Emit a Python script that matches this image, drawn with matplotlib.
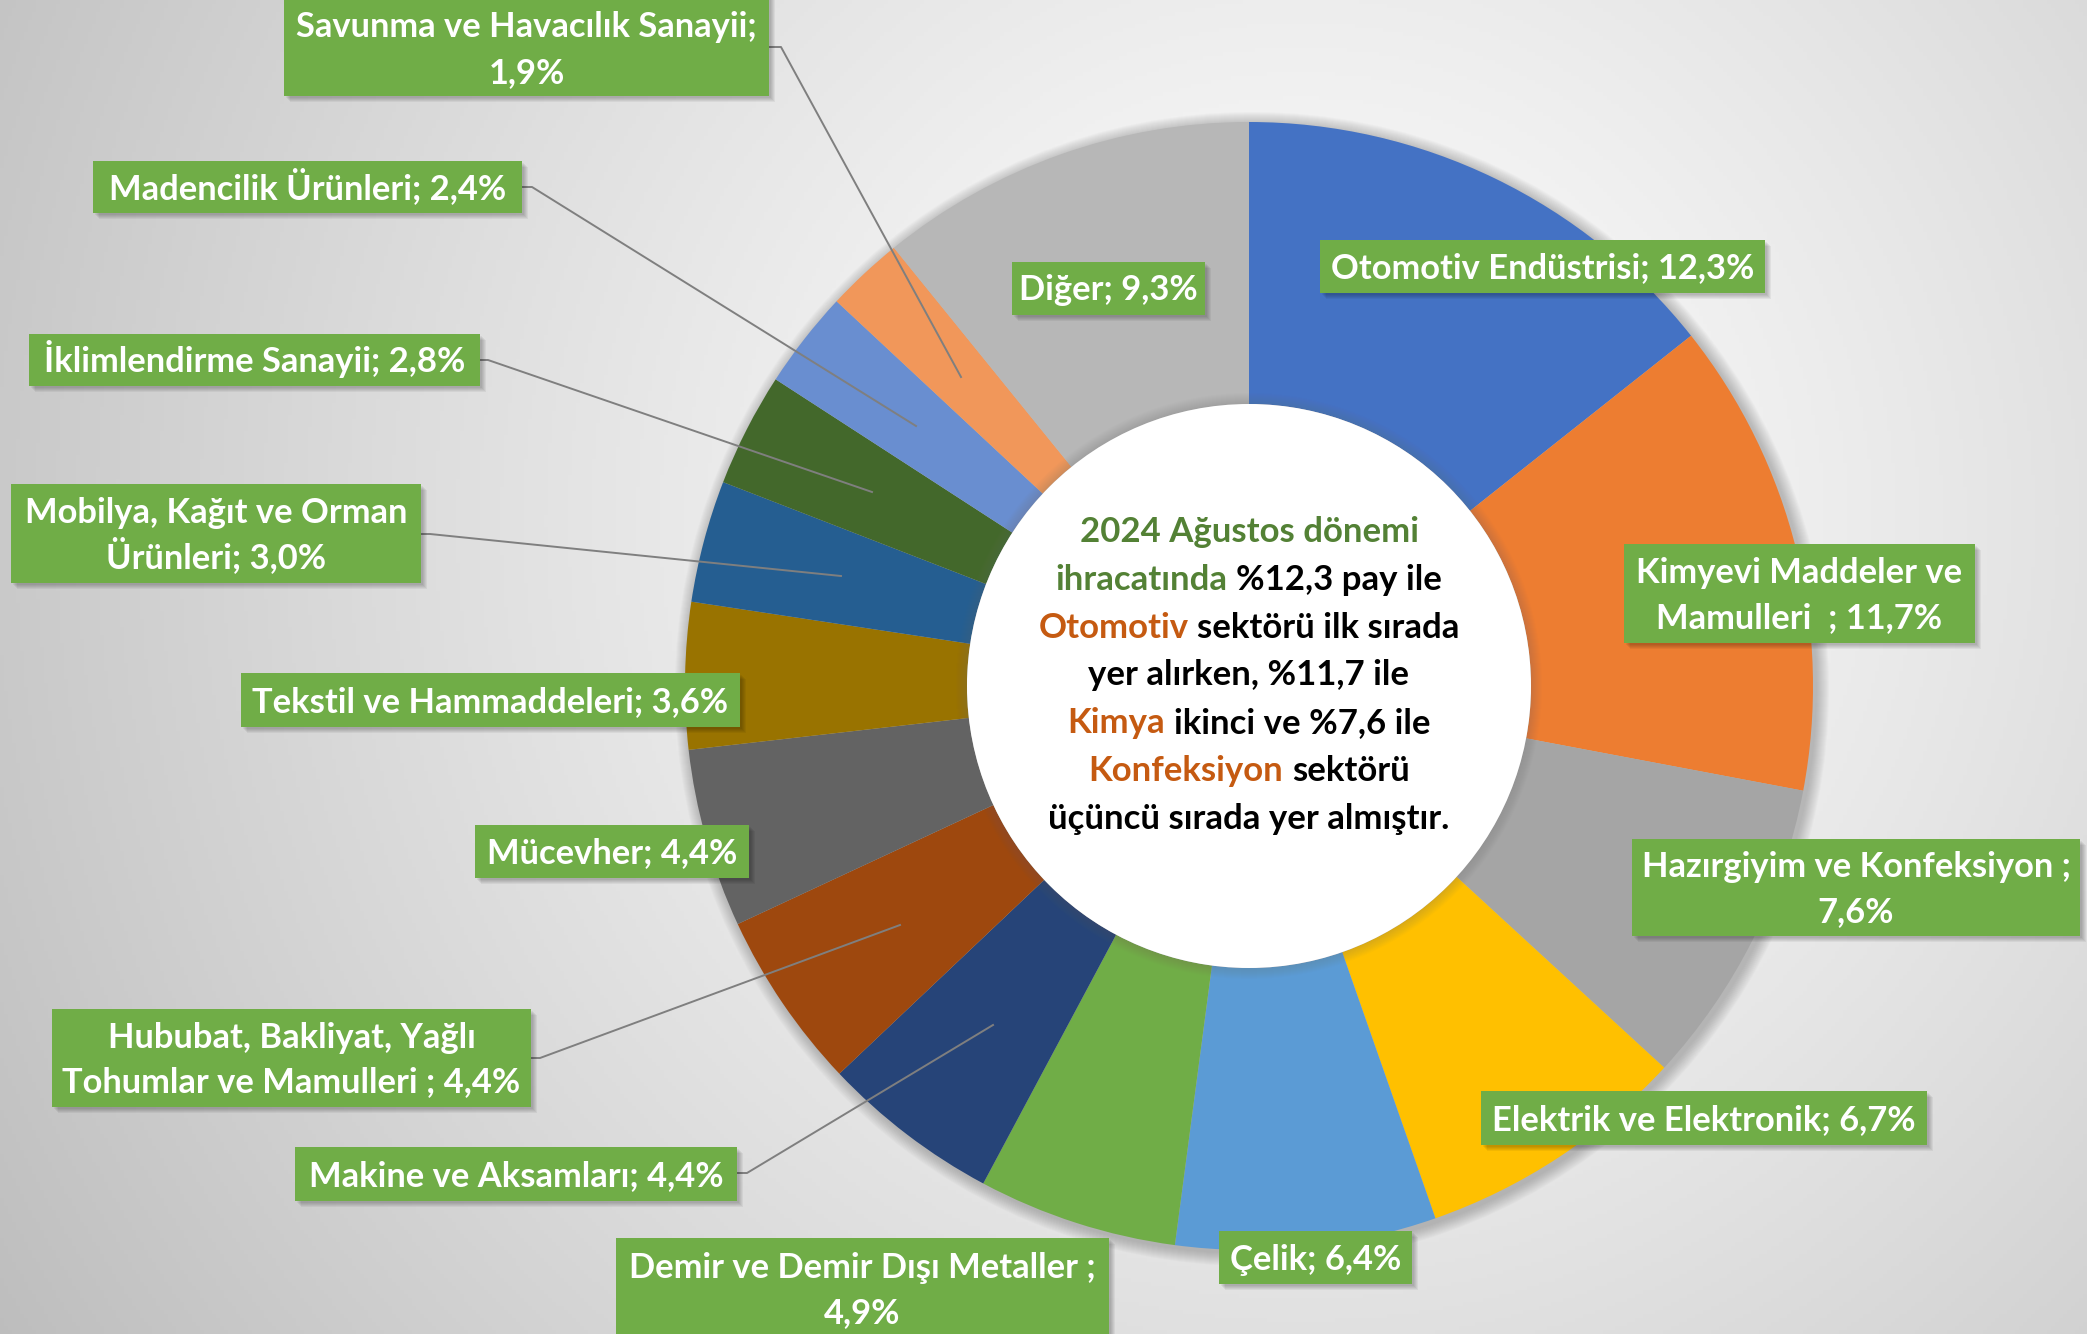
import numpy as np
import matplotlib.pyplot as plt
from matplotlib.patches import Rectangle, Circle

W, H = 2087, 1334
DPI = 100

plt.rcParams['font.family'] = ['Lato', 'DejaVu Sans']

# ---- data ----
sectors = [
    "Otomotiv Endüstrisi", "Kimyevi Maddeler ve Mamulleri", "Hazırgiyim ve Konfeksiyon",
    "Elektrik ve Elektronik", "Çelik", "Demir ve Demir Dışı Metaller",
    "Makine ve Aksamları", "Hububat, Bakliyat, Yağlı Tohumlar ve Mamulleri",
    "Mücevher", "Tekstil ve Hammaddeleri", "Mobilya, Kağıt ve Orman Ürünleri",
    "İklimlendirme Sanayii", "Madencilik Ürünleri", "Savunma ve Havacılık Sanayii", "Diğer",
]
shares = [12.3, 11.7, 7.6, 6.7, 6.4, 4.9, 4.4, 4.4, 4.4, 3.6, 3.0, 2.8, 2.4, 1.9, 9.3]
colors = ["#4472C4", "#ED7D31", "#A5A5A5", "#FFC000", "#5B9BD5", "#70AD47",
          "#264478", "#9E480E", "#636363", "#997300", "#255E91", "#43682B",
          "#698ED0", "#F1975A", "#B7B7B7"]

# label text as written on the chart ({} = share)
label_fmt = [
    "Otomotiv Endüstrisi; {}",
    "Kimyevi Maddeler ve\nMamulleri  ; {}",
    "Hazırgiyim ve Konfeksiyon ;\n{}",
    "Elektrik ve Elektronik; {}",
    "Çelik; {}",
    "Demir ve Demir Dışı Metaller ;\n{}",
    "Makine ve Aksamları; {}",
    "Hububat, Bakliyat, Yağlı\nTohumlar ve Mamulleri ; {}",
    "Mücevher; {}",
    "Tekstil ve Hammaddeleri; {}",
    "Mobilya, Kağıt ve Orman\nÜrünleri; {}",
    "İklimlendirme Sanayii; {}",
    "Madencilik Ürünleri; {}",
    "Savunma ve Havacılık Sanayii;\n{}",
    "Diğer; {}",
]


def tr(v):
    return f"{v:.1f}".replace(".", ",")


# label boxes (x0, x1, y0, y1 in image px from top) and leader lines
boxes = [
    (1320, 1765, 240, 293), (1624, 1975, 544, 643), (1632, 2080, 839, 936),
    (1481, 1927, 1091, 1145), (1219, 1412, 1231, 1284), (616, 1109, 1238, 1350),
    (295, 737, 1147, 1201), (52, 531, 1009, 1107), (475, 749, 825, 878),
    (241, 740, 673, 727), (11, 421, 484, 583), (29, 480, 334, 386),
    (93, 522, 161, 213), (284, 769, -20, 96), (1012, 1205, 262, 315),
]
leaders = {
    13: [(769, 47), (781, 47), (961, 377)],
    12: [(522, 187), (532, 187), (916, 426)],
    11: [(480, 360), (488, 360), (872, 492)],
    10: [(421, 534), (430, 534), (841, 576)],
    7: [(531, 1058), (540, 1058), (900, 925)],
    6: [(737, 1173), (747, 1173), (993, 1025)],
}

fig = plt.figure(figsize=(W / DPI, H / DPI), dpi=DPI)
ax = fig.add_axes([0, 0, 1, 1])

# background radial gradient
yy, xx = np.mgrid[0:H:4, 0:W:4]
d = np.hypot(xx - 1300, yy - 520) / 1400
bg = np.clip(1 - 0.23 * d ** 1.2, 0, 1)
ax.imshow(np.dstack([bg, bg, bg]), extent=(0, W, 0, H), origin='upper', zorder=-10)

cx, cy = 1249, H - 686
R, r_in = 564, 282

# soft outer shadow
for k in range(1, 14):
    ax.add_patch(Circle((cx + 3, cy - 3), R + k, color="#606060", alpha=0.03, lw=0, zorder=-5))

ax.pie(shares, colors=colors, startangle=90, counterclock=False, center=(cx, cy),
       radius=R, wedgeprops=dict(width=R - r_in, linewidth=0))

# inner shadow and hole
for k in range(1, 12):
    ax.add_patch(Circle((cx, cy), r_in + k, color="#707070", alpha=0.025, lw=0, zorder=3))
ax.add_patch(Circle((cx, cy), r_in, color="white", lw=0, zorder=4))

# leader lines
for i, pts in leaders.items():
    xs = [p[0] for p in pts]
    ys = [H - p[1] for p in pts]
    ax.plot(xs, ys, color="#7F7F7F", lw=1.4, zorder=5)

# label boxes
for i, (x0, x1, y0, y1) in enumerate(boxes):
    for s in range(1, 6):
        ax.add_patch(Rectangle((x0 + s + 1, H - y1 - s - 1), x1 - x0, y1 - y0,
                               color="black", alpha=0.05, lw=0, zorder=6))
    ax.add_patch(Rectangle((x0, H - y1), x1 - x0, y1 - y0, color="#70AD47", lw=0, zorder=7))
    lines = label_fmt[i].format(tr(shares[i]) + "%").split("\n")
    if i == 5:
        centers = [1266, 1311]
    elif i == 13:
        centers = [25, 71]
    elif len(lines) == 1:
        centers = [(y0 + y1) / 2]
    else:
        centers = [(y0 + y1) / 2 - 22.5, (y0 + y1) / 2 + 22.5]
    for ln, yc in zip(lines, centers):
        ax.text((x0 + x1) / 2, H - yc - 12, ln, ha="center", va="baseline",
                fontsize=24.8, fontweight="bold", color="white", zorder=8)

# centre text with coloured words
green, orange, black = "#538135", "#C55A11", "black"
center_lines = [
    [("2024 Ağustos dönemi", green)],
    [("ihracatında", green), (f"%{tr(shares[0])} pay ile", black)],
    [("Otomotiv", orange), ("sektörü ilk sırada", black)],
    [(f"yer alırken, %{tr(shares[1])} ile", black)],
    [("Kimya", orange), (f"ikinci ve %{tr(shares[2])} ile", black)],
    [("Konfeksiyon", orange), ("sektörü", black)],
    [("üçüncü sırada yer almıştır.", black)],
]
center_y = [530, 578, 626, 673, 721, 769, 817]

renderer = fig.canvas.get_renderer()
tprops = dict(fontsize=25, fontweight="bold", va="baseline", ha="left", zorder=9)
t1 = ax.text(0, 0, "a a", **tprops)
t2 = ax.text(0, 0, "aa", **tprops)
space = t1.get_window_extent(renderer).width - t2.get_window_extent(renderer).width
t1.remove()
t2.remove()

for segs, yc in zip(center_lines, center_y):
    texts = [ax.text(0, H - yc - 12, s, color=c, **tprops) for s, c in segs]
    widths = [t.get_window_extent(renderer).width for t in texts]
    total = sum(widths) + space * (len(texts) - 1)
    x = cx - total / 2
    for t, w in zip(texts, widths):
        t.set_x(x)
        x += w + space

ax.set_xlim(0, W)
ax.set_ylim(0, H)
ax.set_aspect("equal")
ax.axis("off")

fig.savefig("out.png", dpi=DPI)
